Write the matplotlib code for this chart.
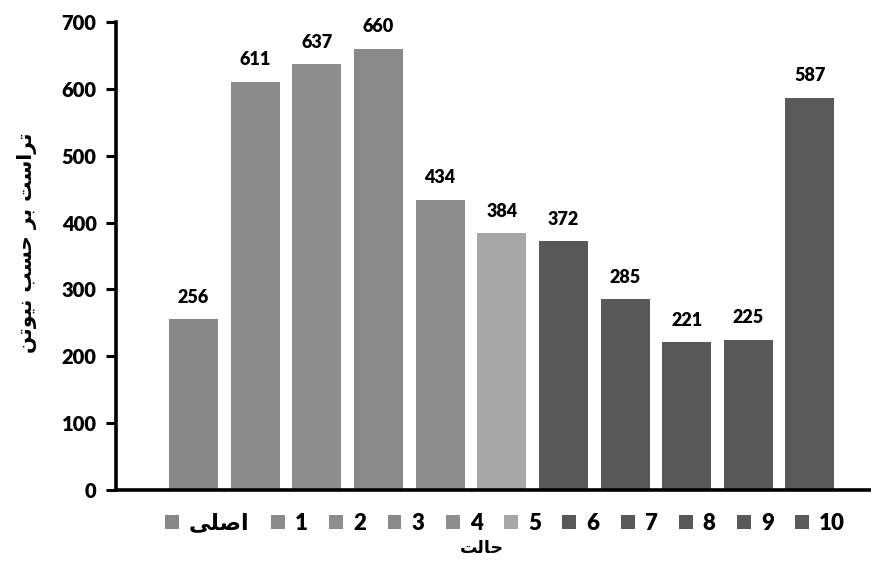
import matplotlib
matplotlib.use("Agg")
import matplotlib.pyplot as plt

# thrust per case (N)
cases = ["\uFEF0\uFEE0\uFEBB\uFE8D", "1", "2", "3", "4", "5", "6", "7", "8", "9", "10"]
thrust = [256, 611, 637, 660, 434, 384, 372, 285, 221, 225, 587]
colors = ["#888888", "#8b8b8b", "#8e8e8e", "#8a8a8a", "#8e8e8e", "#a7a7a7",
          "#585858", "#585858", "#585858", "#585858", "#5a5a5a"]

# Persian labels written in presentation forms, visual order
ylabel = ("\uFEE6\uFE97\uFEEE\uFEF4\uFEE7 \uFE90\uFEB4\uFEA3 "
          "\uFEAE\uFE91 \uFE96\uFEB3\uFE8D\uFEAE\uFE97")
xlabel = "\uFE96\uFEDF\uFE8E\uFEA3"

plt.rcParams['font.family'] = ['Lato', 'DejaVu Sans']
plt.rcParams['font.weight'] = 'bold'

fig = plt.figure(figsize=(8.71, 5.65), dpi=100)
ax = fig.add_axes([0.1332, 0.1327, 0.8668, 0.8283])

x = list(range(len(thrust)))
bars = ax.bar(x, thrust, width=0.795, color=colors, label=cases)
for b, v in zip(bars, thrust):
    ax.text(b.get_x() + b.get_width() / 2, v + 20, str(v), ha='center',
            va='bottom', fontsize=13, fontweight='heavy')

ax.set_xlim(-1.257, 10.99)
ax.set_ylim(0, 700)
ax.set_yticks(range(0, 701, 100))
ax.set_xticks([])
ax.tick_params(axis='y', labelsize=14.5, width=2.2, length=7, pad=7)
for lbl in ax.get_yticklabels():
    lbl.set_fontweight('heavy')

for s in ['top', 'right']:
    ax.spines[s].set_visible(False)
ax.spines['left'].set_linewidth(2.6)
ax.spines['bottom'].set_linewidth(2.6)

fig.text(0.031, 0.57, ylabel, rotation=90, ha='center', va='center',
         fontsize=14.5, fontweight='bold', family=['DejaVu Sans'])
fig.text(0.553, 0.022, xlabel, ha='center', fontsize=12.5, fontweight='bold',
         family=['DejaVu Sans'])

handles = list(bars)
leg = fig.legend(handles, cases, loc='center', bbox_to_anchor=(0.58, 0.074),
                 ncol=11, frameon=False, handlelength=0.62, handleheight=0.62,
                 handletextpad=0.45, columnspacing=0.97,
                 prop={'size': 16, 'weight': 'heavy'})

fig.savefig("out.png", dpi=100)
